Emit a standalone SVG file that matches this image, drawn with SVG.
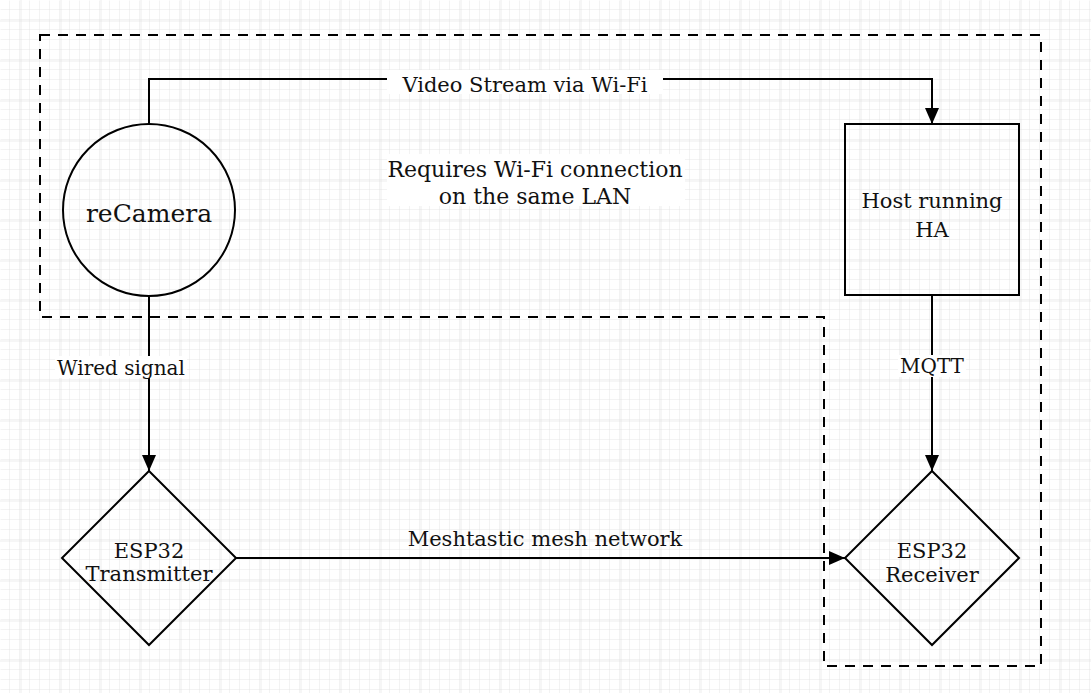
<svg xmlns="http://www.w3.org/2000/svg" width="1091" height="693" viewBox="0 0 1091 693">
<defs>
<pattern id="minor" width="10" height="10" patternUnits="userSpaceOnUse">
<path d="M10 0V10M0 10H10" fill="none" stroke="#e6e6e6" stroke-width="1"/>
</pattern>
<pattern id="major" x="20.5" y="20.5" width="40" height="40" patternUnits="userSpaceOnUse">
<path d="M0 0V40M0 0H40" fill="none" stroke="#d9d9d9" stroke-width="1"/>
</pattern>
<marker id="arr" viewBox="0 0 16 14" refX="16" refY="7" markerWidth="16" markerHeight="14" markerUnits="userSpaceOnUse" orient="auto">
<path d="M0 0L16 7L0 14Z" fill="#000"/>
</marker>
<style>
.shape{fill:none;stroke:#000;stroke-width:2}
.edge{fill:none;stroke:#000;stroke-width:2}
.t{font-family:"DejaVu Serif",serif;fill:#111;text-anchor:middle}
.lbl{fill:#fff}
</style>
</defs>
<rect width="1091" height="693" fill="#fff"/>
<rect x="0.5" y="0.5" width="1091" height="693" fill="url(#minor)"/>
<rect width="1091" height="693" fill="url(#major)"/>
<g id="boundary">
<path d="M40 35H1041V666H824V317H40Z" fill="none" stroke="#000" stroke-width="2" stroke-dasharray="10 8"/>
</g>
<g id="note">
<rect x="387" y="154" width="298" height="52" class="lbl"/>
<text class="t" x="535" y="177" font-size="22">Requires Wi-Fi connection</text>
<text class="t" x="535" y="204" font-size="22">on the same LAN</text>
</g>
<g id="connectors">
<path class="edge" d="M149 124V79H932V124" marker-end="url(#arr)"/>
<path class="edge" d="M149 295V471" marker-end="url(#arr)"/>
<path class="edge" d="M932 295V471" marker-end="url(#arr)"/>
<path class="edge" d="M236 558H845" marker-end="url(#arr)"/>
<rect x="387" y="70" width="276" height="24" class="lbl"/>
<text class="t" x="525" y="92" font-size="21">Video Stream via Wi-Fi</text>
<rect x="55" y="356" width="132" height="22" class="lbl"/>
<text class="t" x="121" y="375" font-size="20">Wired signal</text>
<rect x="898" y="355" width="68" height="22" class="lbl"/>
<text class="t" x="932" y="373" font-size="20">MQTT</text>
<text class="t" x="545" y="546" font-size="21">Meshtastic mesh network</text>
</g>
<g id="reCamera">
<circle class="shape" cx="149" cy="210" r="86"/>
<text class="t" x="149" y="222" font-size="25">reCamera</text>
</g>
<g id="host">
<rect class="shape" x="845" y="124" width="174" height="171"/>
<text class="t" x="932" y="208" font-size="21">Host running</text>
<text class="t" x="932" y="237" font-size="21">HA</text>
</g>
<g id="transmitter">
<path class="shape" d="M149 471L236 558L149 645L62 558Z"/>
<text class="t" x="149" y="558" font-size="21">ESP32</text>
<text class="t" x="149" y="581" font-size="21">Transmitter</text>
</g>
<g id="receiver">
<path class="shape" d="M932 471L1019 558L932 645L845 558Z"/>
<text class="t" x="932" y="558" font-size="21">ESP32</text>
<text class="t" x="932" y="582" font-size="21">Receiver</text>
</g>
</svg>
